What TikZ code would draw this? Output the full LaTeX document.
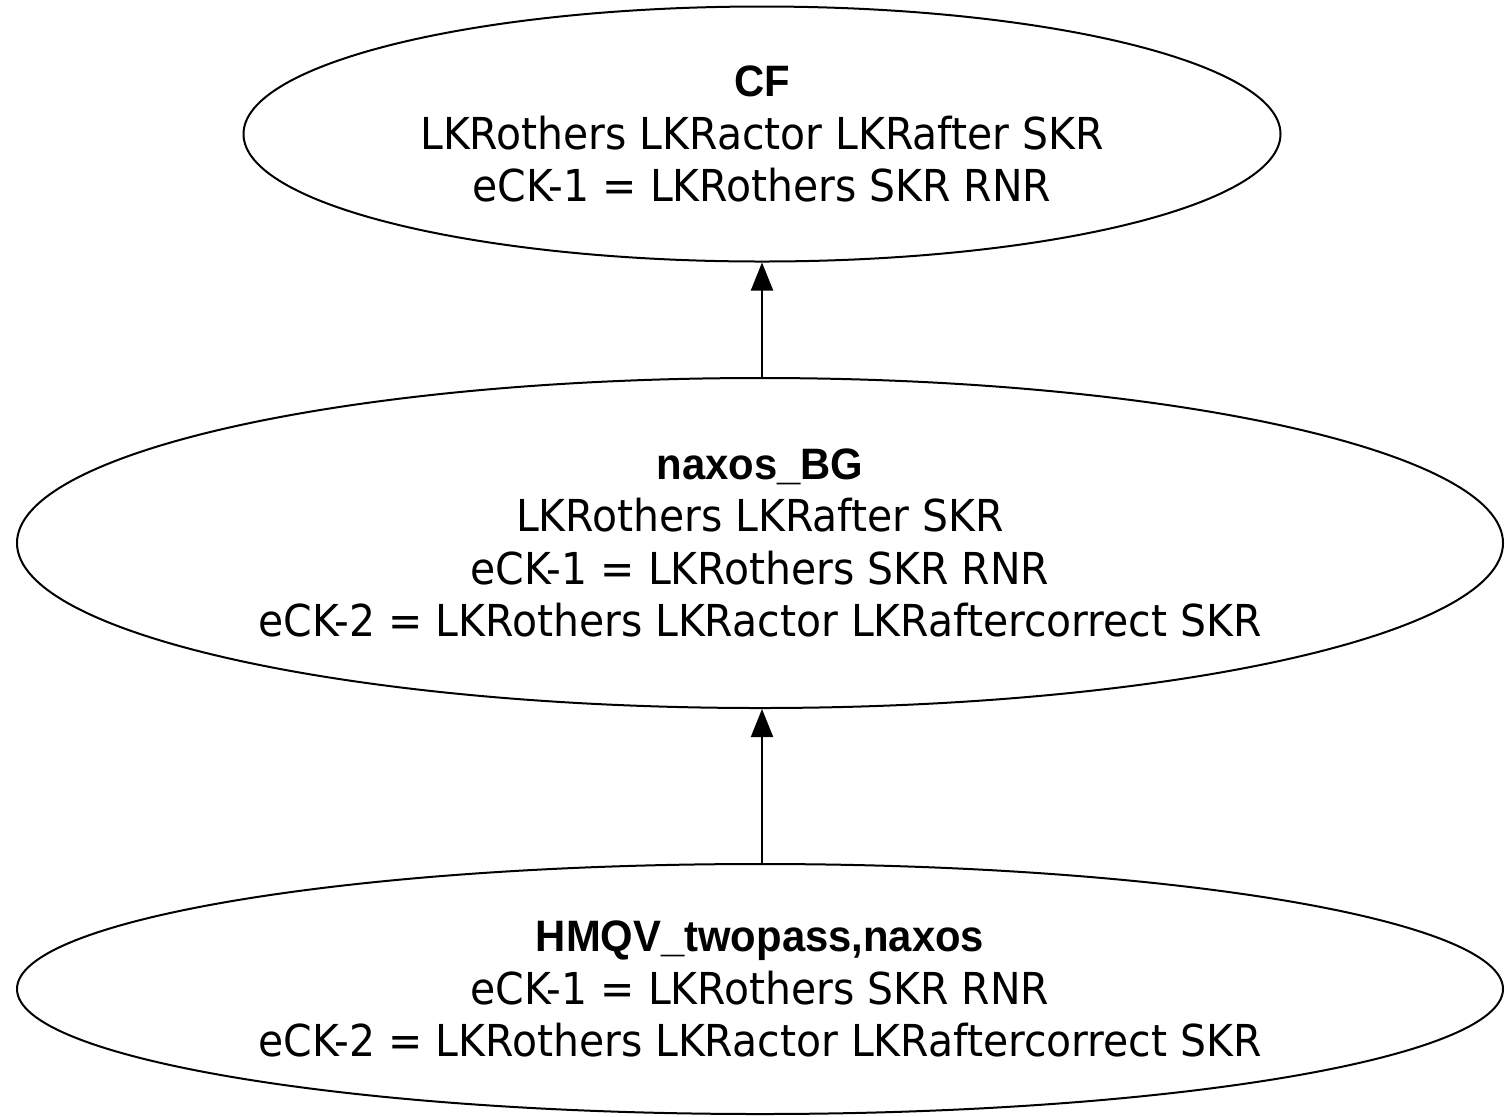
\documentclass[tikz,border=0pt]{standalone}
\usepackage{fontspec}
\setmainfont[FakeStretch=0.93]{DejaVu Sans}
\newfontfamily\titlefont[FakeStretch=0.95]{Liberation Sans Bold}
\usetikzlibrary{shapes.geometric,arrows.meta}
\begin{document}
\begin{tikzpicture}[x=0.5pt,y=-0.5pt,
  oval/.style={ellipse,draw,line width=1pt,inner sep=0pt,align=center,
    font=\fontsize{22}{26.3}\selectfont},
  conn/.style={line width=1pt,-{Triangle[length=14pt,width=11pt]}}]
\useasboundingbox (0,0) rectangle (1505,1116);
\clip (0,0) rectangle (1505,1116);
\node[oval,minimum width=518.5pt,minimum height=127.5pt] (cf) at (762,134)
  {{\titlefont CF}\\LKRothers LKRactor LKRafter SKR\\eCK-1 = LKRothers SKR RNR};
\node[oval,minimum width=743pt,minimum height=165pt] (bg) at (760,543)
  {{\titlefont naxos\_BG}\\LKRothers LKRafter SKR\\eCK-1 = LKRothers SKR RNR\\eCK-2 = LKRothers LKRactor LKRaftercorrect SKR};
\node[oval,minimum width=743pt,minimum height=125pt] (hm) at (760,989)
  {{\titlefont HMQV\_twopass,naxos}\\eCK-1 = LKRothers SKR RNR\\eCK-2 = LKRothers LKRactor LKRaftercorrect SKR};
\draw[conn] (bg.north -| cf.south) -- (cf.south);
\draw[conn] (hm.north -| cf.south) -- (bg.south -| cf.south);
\end{tikzpicture}
\end{document}
